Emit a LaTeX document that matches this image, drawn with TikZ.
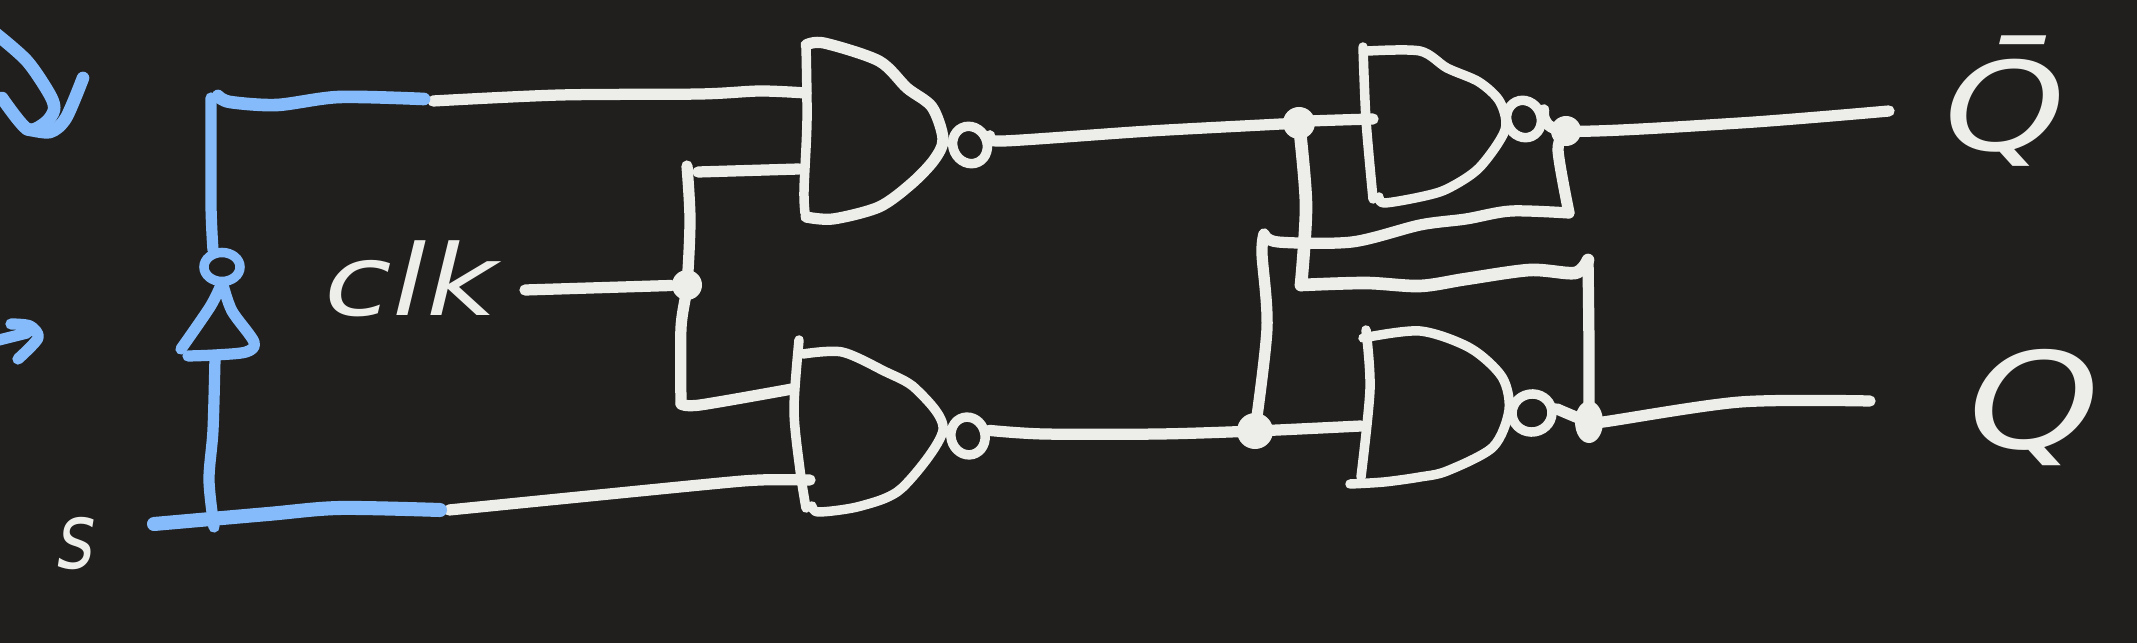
\documentclass[tikz,border=0pt]{standalone}
\usepackage{fontspec}
\usetikzlibrary{shapes.geometric}
\newfontfamily\handfont[FakeStretch=1.25]{DejaVu Sans}
\newfontfamily\narrowhand[FakeStretch=.8]{DejaVu Sans}
\definecolor{slate}{RGB}{32,31,30}
\definecolor{chalk}{RGB}{237,237,234}
\definecolor{skyblue}{RGB}{133,187,250}
\tikzset{
  wire/.style={draw=chalk, line width=3.2pt, line cap=round, line join=round},
  gateline/.style={wire, line width=2.7pt},
  bluewire/.style={wire, draw=skyblue},
  junction/.style={circle, fill=chalk, inner sep=0pt, minimum size=.3cm},
  bubble/.style={ellipse, draw=chalk, line width=2.7pt, inner sep=0pt, minimum width=.34cm, minimum height=.38cm},
  handtext/.style={text=chalk, inner sep=0pt}
}
\begin{document}
\begin{tikzpicture}[x=.01cm,y=-.01cm]
  \fill[slate] (0,0) rectangle (2137,643);
  \useasboundingbox (0,0) rectangle (2137,643);

  % labels
  \node[handtext, font=\handfont\itshape\fontsize{28}{28}\selectfont] (clk) at (411,279) {clk};
  \node[handtext, font=\narrowhand\itshape\fontsize{26}{26}\selectfont] (s) at (77,544) {s};
  \node[handtext, font=\handfont\itshape\fontsize{35}{35}\selectfont] (qbar) at (2005,101) {Q̄};
  \node[handtext, font=\handfont\itshape\fontsize{38}{38}\selectfont] (q) at (2034,408) {Q};

  % junctions and bubbles
  \node[junction] (jclk) at (687,285) {};
  \node[junction, minimum size=.32cm] (jtop) at (1299,123) {};
  \node[junction, minimum size=.36cm] (jlow) at (1255,431) {};
  \node[junction] (jqbar) at (1566,131) {};
  \node[junction, minimum width=.28cm, minimum height=.42cm, ellipse] (jq) at (1589,422) {};
  \node[bubble, rotate=25] (not1) at (970,145) {};
  \node[bubble, rotate=15] (not2) at (968,436) {};
  \node[bubble, rotate=25] (not3) at (1524,119) {};
  \node[bubble, minimum width=.4cm, rotate=10] (not4) at (1532,413) {};
  \node[ellipse, draw=skyblue, line width=2.7pt, inner sep=0pt, minimum width=.36cm, minimum height=.29cm] (notblue) at (222,267) {};

  % gate input and output ends
  \coordinate (a1) at (806,93);
  \coordinate (b1) at (799,169);
  \coordinate (a2) at (792,389);
  \coordinate (b2) at (810,480);
  \coordinate (a3) at (1373,119);
  \coordinate (b3) at (1569,213);
  \coordinate (a4) at (1264,234);
  \coordinate (b4) at (1361,426);
  \coordinate (qend) at (1889,111);
  \coordinate (qout) at (1870,401);
  \coordinate (rend) at (424,99);
  \coordinate (send) at (440,510);

  % gates
  \draw[gateline] plot[smooth, tension=.5] coordinates {(806,45) (807,120) (804,190) (805,213)};
  \draw[gateline, line width=3.2pt] plot[smooth, tension=.5] coordinates {(806,45) (824,43) (879,61) (907,88) (932,107) (943,139) (934,160) (911,184) (879,207) (833,219) (806,217)};
  \draw[gateline] plot[smooth, tension=.5] coordinates {(799,340) (794,410) (800,470) (806,508)};
  \draw[gateline] plot[smooth, tension=.5] coordinates {(803,354) (842,352) (884,371) (916,389) (943,430) (902,488) (861,506) (819,512) (812,506)};
  \draw[gateline] plot[smooth, tension=.5] coordinates {(1363,47) (1366,120) (1373,199)};
  \draw[gateline] plot[smooth, tension=.5] coordinates {(1368,51) (1420,51) (1447,68) (1479,82) (1500,102) (1505,130) (1479,168) (1447,189) (1420,197) (1384,203) (1379,197)};
  \draw[gateline] plot[smooth, tension=.5] coordinates {(1366,330) (1370,389) (1361,477)};
  \draw[gateline] plot[smooth, tension=.5] coordinates {(1363,338) (1420,331) (1470,348) (1502,377) (1509,410) (1493,447) (1447,471) (1420,477) (1384,482) (1350,484)};

  % wires
  \draw[wire] plot[smooth, tension=.5] coordinates {(433,101) (560,95) (700,94) (760,91) (a1)};
  \draw[wire] plot[smooth, tension=.5] coordinates {(449,510) (700,485) (760,480) (b2)};
  \draw[wire] (525,290) -- (jclk);
  \draw[wire] plot[smooth, tension=.5] coordinates {(687,166) (690,220) (jclk) (681,328) (681,404)};
  \draw[wire] plot[smooth, tension=.5] coordinates {(681,404) (700,405) (a2)};
  \draw[wire] plot[smooth, tension=.5] coordinates {(698,172) (b1)};
  \draw[wire] plot[smooth, tension=.5] coordinates {(not1.east) (1003,141) (1150,131) (jtop) (1311,121) (a3)};
  \draw[wire] plot[smooth, tension=.5] coordinates {(not2.east) (1044,434) (1159,434) (jlow) (b4)};
  \draw[wire, line width=3.6pt] plot[smooth, tension=.5] coordinates {(jtop) (1306,205) (1301,285)};
  \draw[wire, line width=3.6pt] plot[smooth, tension=.5] coordinates {(1301,285) (1366,283) (1420,286) (1466,279) (1530,270) (1575,273) (1588,260)};
  \draw[wire] plot[smooth, tension=.5] coordinates {(1588,260) (1589,348) (jq)};
  \draw[wire] plot[smooth, tension=.5] coordinates {(jlow) (1267,328) (1262,254) (a4)};
  \draw[wire] plot[smooth, tension=.5] coordinates {(a4) (1278,242) (1352,242) (1420,225) (1466,219) (1511,211) (b3)};
  \draw[wire] plot[smooth, tension=.5] coordinates {(b3) (1558,150) (jqbar)};
  \draw[wire] plot[smooth, tension=.5] coordinates {(not3.east) (jqbar) (1740,123) (qend)};
  \draw[wire] plot[smooth, tension=.5] coordinates {(not4.east) (jq) (1603,422) (1740,402) (qout)};

  % blue part
  \draw[bluewire, line width=3.6pt] plot[smooth, tension=.5] coordinates {(218,96) (230,102) (277,105) (339,97) (rend)};
  \draw[bluewire, line width=4pt] plot[smooth, tension=.5] coordinates {(154,524) (268,514) (339,508) (send)};
  \draw[bluewire] plot[smooth, tension=.5] coordinates {(211,98) (211,205) (213,250)};
  \draw[bluewire] plot[smooth, tension=.5] coordinates {(221,285) (210,307) (181,349)};
  \draw[bluewire] plot[smooth, tension=.5] coordinates {(223,285) (232,311) (254,342) (246,352) (215,355) (188,356)};
  \draw[bluewire] plot[smooth, tension=.5] coordinates {(215,358) (213,430) (209,480) (214,527)};
  \draw[bluewire, line width=3.6pt] plot[smooth, tension=.5] coordinates {(-5,33) (27,61) (50,95) (54,110) (45,123) (27,129) (2,98)};
  \draw[bluewire, line width=3.6pt] plot[smooth, tension=.5] coordinates {(27,129) (50,132) (66,118) (83,78)};
  \draw[bluewire] plot[smooth, tension=.5] coordinates {(-5,341) (27,333)};
  \draw[bluewire] plot[smooth, tension=.5] coordinates {(11,324) (30,326) (38,338) (18,359)};
\end{tikzpicture}
\end{document}
